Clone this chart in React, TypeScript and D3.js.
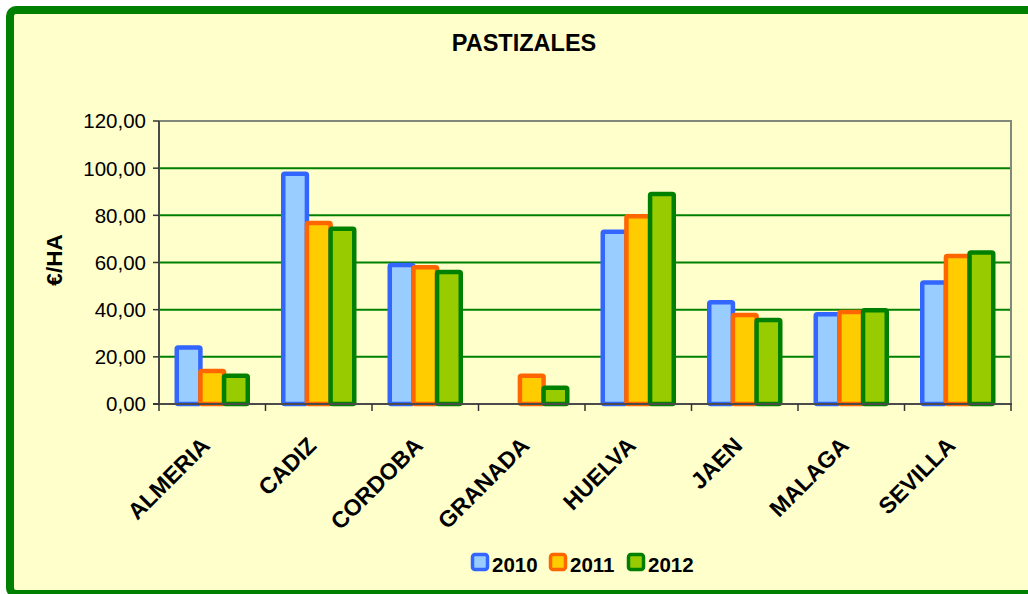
import { useEffect, useRef } from 'react';
import * as d3 from 'd3';

// Pastizales - €/HA per provincia, 2010-2012
const categories = ['ALMERIA', 'CADIZ', 'CORDOBA', 'GRANADA', 'HUELVA', 'JAEN', 'MALAGA', 'SEVILLA'];
const series = ['2010', '2011', '2012'];
const values2010 = [24.0, 97.6, 58.9, 0, 73.0, 43.1, 38.1, 51.5];
const values2011 = [14.0, 76.8, 58.0, 12.0, 79.6, 37.7, 39.0, 62.8];
const values2012 = [12.0, 74.3, 56.0, 6.9, 89.0, 35.6, 39.8, 64.2];
const yTicks = [0, 20, 40, 60, 80, 100, 120];

const fills = ['#99CCFF', '#FFCC00', '#99CC00'];
const strokes = ['#3366FF', '#FF6600', '#008000'];

const W = 1028;
const H = 594;

const App = () => {
    const svgRef = useRef<SVGSVGElement | null>(null);

    useEffect(() => {
        const svg = d3.select(svgRef.current);
        svg.selectAll('*').remove();

        const font = "'Liberation Sans', Arial, sans-serif";
        const table = [values2010, values2011, values2012];
        const locale = d3.formatLocale({ decimal: ',', thousands: '.', grouping: [3], currency: ['', '€'] });
        const fmt = locale.format('.2f');

        // outer frame
        svg.append('rect')
            .attr('x', 10).attr('y', 10)
            .attr('width', 1040).attr('height', 584)
            .attr('rx', 6)
            .attr('fill', '#FFFFCC')
            .attr('stroke', '#008000')
            .attr('stroke-width', 8);

        const left = 159, right = 1011, top = 121, bottom = 404;

        const x0 = d3.scaleBand<string>().domain(categories).range([left, right]);
        const bw = x0.bandwidth();
        const groupW = 71;
        const x1 = d3.scaleBand<string>().domain(series).range([(bw - groupW) / 2, (bw + groupW) / 2]);
        const y = d3.scaleLinear().domain([0, 120]).range([bottom, top]);

        // gridlines
        svg.append('g').selectAll('line')
            .data(yTicks.filter(t => t > 0 && t < 120))
            .join('line')
            .attr('x1', left).attr('x2', right)
            .attr('y1', d => y(d)).attr('y2', d => y(d))
            .attr('stroke', '#008000')
            .attr('stroke-width', 2);

        // plot frame (top/right)
        svg.append('path')
            .attr('d', `M${left},${top}H${right}V${bottom}`)
            .attr('fill', 'none')
            .attr('stroke', '#7F8A7A')
            .attr('stroke-width', 2);

        // bars
        categories.forEach((c, ci) => {
            series.forEach((s, si) => {
                const v = table[si][ci];
                if (!v) return;
                svg.append('rect')
                    .attr('x', (x0(c) as number) + (x1(s) as number))
                    .attr('y', y(v))
                    .attr('width', x1.bandwidth())
                    .attr('height', bottom - y(v))
                    .attr('rx', 1.5)
                    .attr('fill', fills[si])
                    .attr('stroke', strokes[si])
                    .attr('stroke-width', 4.5)
                    .attr('stroke-linejoin', 'round');
            });
        });

        // axes lines
        svg.append('line')
            .attr('x1', left).attr('x2', left)
            .attr('y1', top).attr('y2', bottom)
            .attr('stroke', '#4A4A4A').attr('stroke-width', 2);
        svg.append('line')
            .attr('x1', left - 6).attr('x2', right + 1)
            .attr('y1', bottom).attr('y2', bottom)
            .attr('stroke', '#4A4A4A').attr('stroke-width', 2);

        // y ticks + labels
        yTicks.forEach(t => {
            svg.append('line')
                .attr('x1', left - 6).attr('x2', left)
                .attr('y1', y(t)).attr('y2', y(t))
                .attr('stroke', '#333').attr('stroke-width', 1.5);
            svg.append('text')
                .attr('x', 146)
                .attr('y', y(t))
                .attr('dy', '0.36em')
                .attr('text-anchor', 'end')
                .style('font-family', font)
                .style('font-size', '20.5px')
                .attr('fill', '#000')
                .text(fmt(t));
        });

        // x ticks at boundaries
        const bounds = categories.map(c => x0(c) as number).concat([right]);
        bounds.forEach(bx => {
            svg.append('line')
                .attr('x1', bx).attr('x2', bx)
                .attr('y1', bottom).attr('y2', bottom + 7)
                .attr('stroke', '#333').attr('stroke-width', 1.5);
        });

        // x labels, rotated
        categories.forEach(c => {
            const cx = (x0(c) as number) + bw / 2 - 1;
            svg.append('text')
                .attr('transform', `translate(${cx},${bottom + 43}) rotate(-45)`)
                .attr('text-anchor', 'end')
                .style('font-family', font)
                .style('font-size', '23px')
                .style('font-weight', '700')
                .attr('fill', '#000')
                .text(c);
        });

        // title
        svg.append('text')
            .attr('x', 524).attr('y', 51)
            .attr('text-anchor', 'middle')
            .style('font-family', font)
            .style('font-size', '23.5px')
            .style('font-weight', '700')
            .text('PASTIZALES');

        // y axis title
        svg.append('text')
            .attr('transform', 'translate(62,260) rotate(-90)')
            .attr('text-anchor', 'middle')
            .style('font-family', font)
            .style('font-size', '22.5px')
            .style('font-weight', '700')
            .text('€/HA');

        // legend
        const legend = svg.append('g').attr('transform', 'translate(471,553)');
        series.forEach((s, i) => {
            const g = legend.append('g').attr('transform', `translate(${i * 78},0)`);
            g.append('rect')
                .attr('x', 1.5).attr('y', 1.5)
                .attr('width', 15).attr('height', 15)
                .attr('rx', 2.5)
                .attr('fill', fills[i])
                .attr('stroke', strokes[i])
                .attr('stroke-width', 3.5);
            g.append('text')
                .attr('x', 21).attr('y', 19)
                .style('font-family', font)
                .style('font-size', '20.5px')
                .style('font-weight', '700')
                .text(s);
        });
    }, []);

    return (
        <svg
            ref={svgRef}
            width={W}
            height={H}
            style={{ position: 'absolute', left: 0, top: 0, background: '#fff' }}
        />
    );
};

export default App;
